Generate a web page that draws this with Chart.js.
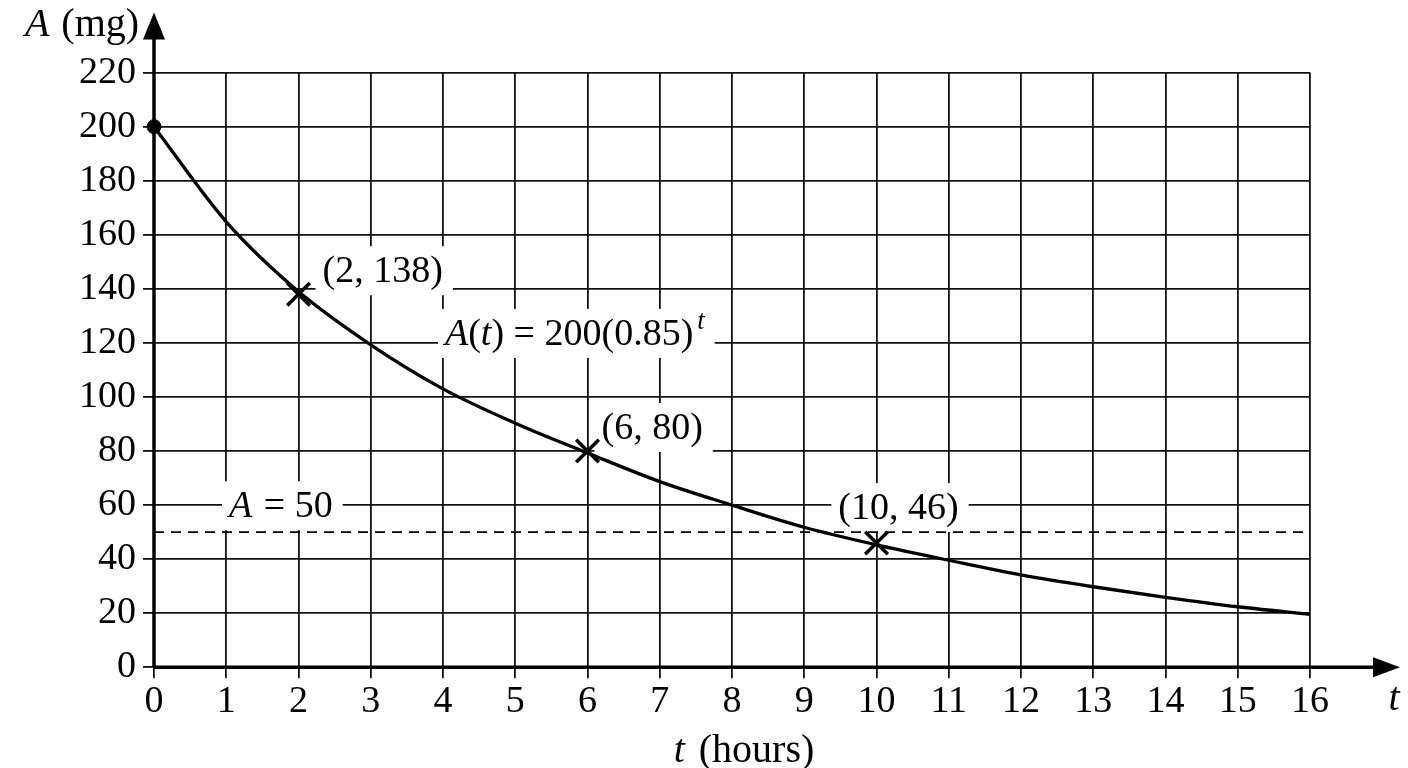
<!DOCTYPE html>
<html>
<head>
<meta charset="utf-8">
<script src="https://cdn.jsdelivr.net/npm/chart.js@4.4.1/dist/chart.umd.min.js"></script>
<style>
  html, body { margin: 0; background: #fff; }
  #wrap { width: 1408px; height: 768px; }
</style>
</head>
<body>
<div id="wrap"><canvas id="chart" width="1408" height="768"></canvas></div>
<script>
// ----- data -----
const tHours   = [0, 1, 2, 3, 4, 5, 6, 7, 8, 9, 10, 11, 12, 13, 14, 15, 16]
const amountMg = [200, 164.8, 139, 119.3, 103, 90.3, 79.3, 68.7, 60, 51.8, 45.3, 39.6, 34.2, 29.8, 25.9, 22.4, 19.6]

const markedT = [2, 6, 10]
const markedA = [138, 80, 46]

const startT = [0]
const startA = [200]

const thresholdA = 50

const xMax = 16
const xStep = 1
const yMax = 220
const yStep = 20

// ----- helpers -----
const FONT = '"Liberation Serif", "Times New Roman", serif'
const SIZE = 38
const TITLE_SIZE = 40

const fontOf = (r, size) =>
  (r.italic ? 'italic ' : '') + (r.sup ? size * 0.7 : size) + 'px ' + FONT

function measureRuns(ctx, runs, size) {
  let total = 0
  runs.forEach(r => {
    ctx.font = fontOf(r, size)
    r.w = ctx.measureText(r.text).width + (r.gap || 0)
    total += r.w
  })
  return total
}

// draw a line of mixed upright / italic / superscript runs
function drawRuns(ctx, runs, x, y, align, size = SIZE) {
  const total = measureRuns(ctx, runs, size)
  let cx = align === 'center' ? x - total / 2 : x
  ctx.textBaseline = 'middle'
  ctx.textAlign = 'left'
  runs.forEach(r => {
    ctx.font = fontOf(r, size)
    ctx.fillText(r.text, cx + (r.gap || 0), r.sup ? y - 13 : y)
    cx += r.w
  })
}

// labels: anchor in data space, pixel offset of text (left / centre)
const labels = [
  { at: [markedT[0], markedA[0]], dx: 24, dy: -22, align: 'left',
    runs: [{ text: `(${markedT[0]}, ${markedA[0]})` }] },
  { at: [markedT[1], markedA[1]], dx: 14, dy: -22, align: 'left',
    runs: [{ text: `(${markedT[1]}, ${markedA[1]})` }] },
  { at: [markedT[2], markedA[2]], dx: 22, dy: -34, align: 'center',
    runs: [{ text: `(${markedT[2]}, ${markedA[2]})` }] },
  { at: [4, 120], dx: 2, dy: -8, align: 'left',
    runs: [{ text: 'A', italic: true }, { text: '(' }, { text: 't', italic: true },
           { text: ') = 200(0.85)' }, { text: 't', italic: true, sup: true, gap: 4 }] },
  { at: [0, thresholdA], dx: 75, dy: -25, align: 'left',
    runs: [{ text: 'A', italic: true }, { text: ' = 50', gap: 2 }] },
]

const decorPlugin = {
  id: 'decor',
  beforeDatasetsDraw(chart) {
    const { ctx, chartArea: a, scales: { x, y } } = chart
    ctx.save()

    // label boxes and texts
    labels.forEach(l => {
      const px = x.getPixelForValue(l.at[0]) + l.dx
      const py = y.getPixelForValue(l.at[1]) + l.dy
      const w = measureRuns(ctx, l.runs, SIZE)
      const left = l.align === 'center' ? px - w / 2 : px
      ctx.fillStyle = '#fff'
      ctx.fillRect(left - 7, py - 26, w + 17, 49)
      ctx.fillStyle = '#000'
      drawRuns(ctx, l.runs, left, py, 'left')
    })

    // axes with arrows
    ctx.strokeStyle = '#000'
    ctx.fillStyle = '#000'
    ctx.lineWidth = 3.5
    const x0 = x.getPixelForValue(0)
    const y0 = y.getPixelForValue(0)
    const yTip = a.top - 60
    const xTip = a.right + 90
    ctx.beginPath()
    ctx.moveTo(x0, y0)
    ctx.lineTo(x0, yTip + 20)
    ctx.moveTo(x0, y0)
    ctx.lineTo(xTip - 20, y0)
    ctx.stroke()
    ctx.beginPath()
    ctx.moveTo(x0, yTip)
    ctx.lineTo(x0 - 11, yTip + 27)
    ctx.lineTo(x0 + 11, yTip + 27)
    ctx.closePath()
    ctx.fill()
    ctx.beginPath()
    ctx.moveTo(xTip, y0)
    ctx.lineTo(xTip - 27, y0 - 10)
    ctx.lineTo(xTip - 27, y0 + 10)
    ctx.closePath()
    ctx.fill()

    // axis titles
    drawRuns(ctx, [{ text: 'A', italic: true }, { text: ' (mg)', gap: 2 }], x0 - 72, 25, 'center', TITLE_SIZE)
    drawRuns(ctx, [{ text: 't', italic: true }, { text: ' (hours)', gap: 4 }],
      (a.left + a.right) / 2 + 12, 751, 'center', TITLE_SIZE)
    drawRuns(ctx, [{ text: 't', italic: true }], xTip - 6, y0 + 32, 'center', TITLE_SIZE)

    ctx.restore()
  },
}

const curve = tHours.map((t, i) => ({ x: t, y: amountMg[i] }))
const marks = markedT.map((t, i) => ({ x: t, y: markedA[i] }))
const start = startT.map((t, i) => ({ x: t, y: startA[i] }))
const threshold = [{ x: 0, y: thresholdA }, { x: xMax, y: thresholdA }]

new Chart(document.getElementById('chart'), {
  type: 'line',
  data: {
    datasets: [
      {
        data: curve,
        borderColor: '#000',
        borderWidth: 3.3,
        pointRadius: 0,
        cubicInterpolationMode: 'monotone',
        fill: false,
        clip: false,
      },
      {
        data: threshold,
        borderColor: '#000',
        borderWidth: 1.6,
        borderDash: [10, 7],
        pointRadius: 0,
        fill: false,
      },
      {
        data: marks,
        showLine: false,
        pointStyle: 'crossRot',
        pointRadius: 16,
        pointBorderWidth: 3.5,
        pointBorderColor: '#000',
        clip: false,
      },
      {
        data: start,
        showLine: false,
        pointStyle: 'circle',
        pointRadius: 7,
        pointBackgroundColor: '#000',
        pointBorderColor: '#000',
        clip: false,
      },
    ],
  },
  options: {
    responsive: false,
    animation: false,
    events: [],
    layout: { padding: { top: 72.6, right: 98, left: 0, bottom: 0 } },
    plugins: {
      legend: { display: false },
      tooltip: { enabled: false },
    },
    scales: {
      x: {
        type: 'linear',
        min: 0,
        max: xMax,
        ticks: { stepSize: xStep, color: '#000', font: { family: FONT, size: SIZE }, padding: 1, maxRotation: 0 },
        grid: { color: '#111', lineWidth: 1.8, tickLength: 11, tickColor: '#111' },
        border: { display: false },
        afterFit: s => { s.height = 100.7 },
      },
      y: {
        min: 0,
        max: yMax,
        ticks: { stepSize: yStep, color: '#000', font: { family: FONT, size: SIZE }, padding: 7 },
        grid: { color: '#111', lineWidth: 1.8, tickLength: 11, tickColor: '#111' },
        border: { display: false },
        afterFit: s => { s.width = 154 },
      },
    },
  },
  plugins: [decorPlugin],
})
</script>
</body>
</html>
